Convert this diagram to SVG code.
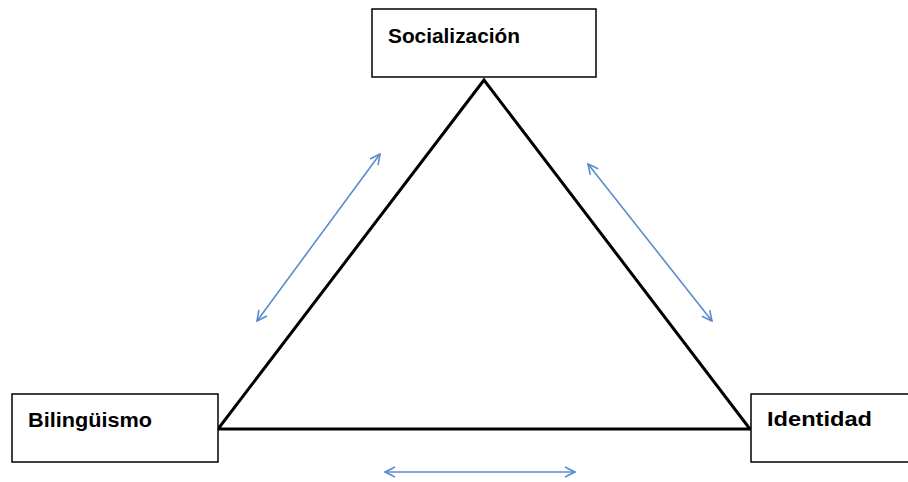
<svg xmlns="http://www.w3.org/2000/svg" width="908" height="482" viewBox="0 0 908 482">
<style>
.box{fill:#fff;stroke:#000;stroke-width:1.5}
.lbl{font-family:"Liberation Sans",Arial,sans-serif;font-weight:bold;font-size:20px;fill:#000}
.tri{fill:none;stroke:#000;stroke-width:3;stroke-linejoin:miter}
.arr{stroke:#5a8ccc;stroke-width:1.6;fill:none;marker-start:url(#ah);marker-end:url(#ah)}
</style>
<defs>
<marker id="ah" viewBox="0 0 12 12" refX="11" refY="6" markerWidth="12" markerHeight="12" markerUnits="userSpaceOnUse" orient="auto-start-reverse">
<path d="M1,1 L11,6 L1,11" fill="none" stroke="#5a8ccc" stroke-width="1.6"/>
</marker>
</defs>
<rect width="908" height="482" fill="#fff"/>
<g id="connectors">
<polygon class="tri" points="484,80 218,429 750,429"/>
<line class="arr" x1="257" y1="321" x2="380" y2="154"/>
<line class="arr" x1="588" y1="164" x2="712" y2="321"/>
<line class="arr" x1="385" y1="472" x2="575" y2="472"/>
</g>
<g id="socializacion">
<rect class="box" x="372" y="9" width="224" height="68"/>
<text class="lbl" x="388" y="43" textLength="132" lengthAdjust="spacingAndGlyphs">Socialización</text>
</g>
<g id="bilinguismo">
<rect class="box" x="12" y="394" width="206" height="68"/>
<text class="lbl" x="28" y="427" textLength="124" lengthAdjust="spacingAndGlyphs">Bilingüismo</text>
</g>
<g id="identidad">
<rect class="box" x="751" y="394" width="170" height="68"/>
<text class="lbl" x="767" y="426" textLength="105" lengthAdjust="spacingAndGlyphs">Identidad</text>
</g>
</svg>
